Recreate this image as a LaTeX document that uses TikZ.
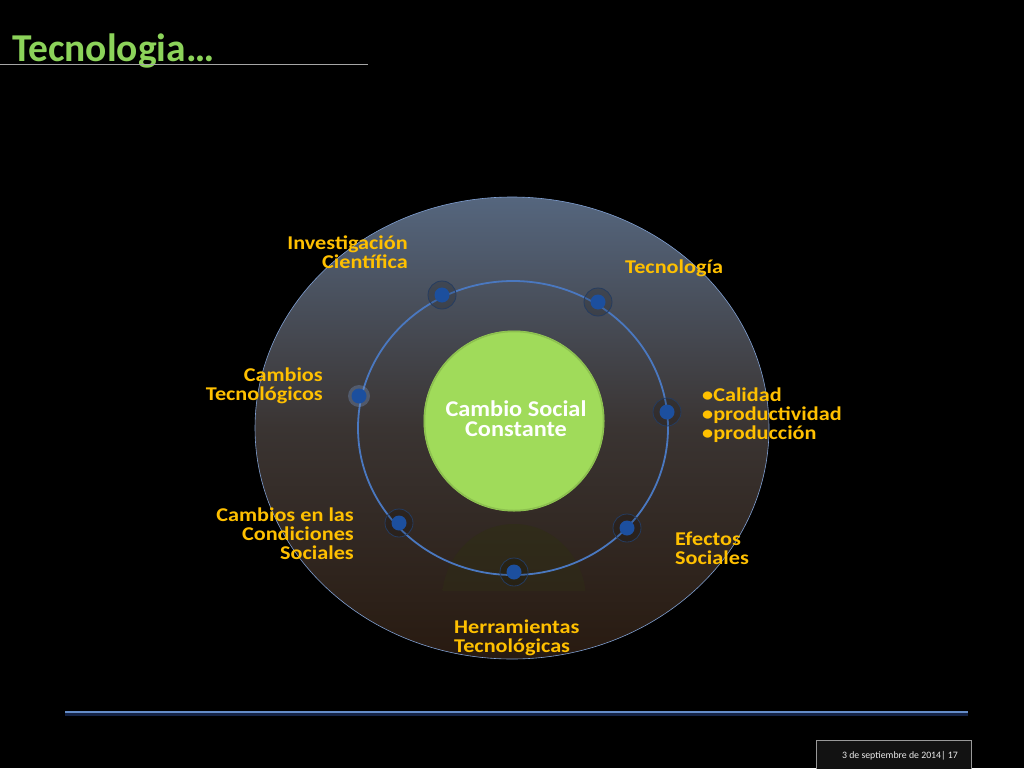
\documentclass[tikz,border=0pt]{standalone}
\usepackage{graphicx}
\usepackage{fontspec}
\setmainfont{Carlito}
\newcommand\hs[1]{\scalebox{1.14}[1]{#1}}
\newcommand\hc[1]{\scalebox{1.08}[1]{#1}}
\definecolor{gold}{HTML}{FFC000}
\definecolor{ringblue}{HTML}{4A78C0}
\definecolor{dotblue}{HTML}{1C4F9E}
\definecolor{titlegreen}{HTML}{8CD35A}
\definecolor{ballgreen}{HTML}{A0DB5A}
\definecolor{topgray}{HTML}{55667E}
\definecolor{midgray}{HTML}{3A3432}
\definecolor{botbrown}{HTML}{281A10}
\definecolor{linedark}{HTML}{142346}
\definecolor{linelight}{HTML}{648CC8}
\definecolor{footfill}{HTML}{121212}
\definecolor{refltop}{HTML}{302C1A}
\definecolor{reflbot}{HTML}{2B2016}
\tikzset{
  lbl/.style={text=gold, font=\fontsize{19.5}{19}\selectfont\bfseries, inner sep=0pt},
  ring/.style={draw=black!50!ringblue, line width=0.8pt, fill=black, fill opacity=0.15},
  dot/.style={circle, fill=dotblue, minimum size=15pt, inner sep=0pt},
}
\begin{document}
\begin{tikzpicture}[x=1pt,y=-1pt]
\useasboundingbox (0,0) rectangle (1024,768);
\fill[black] (0,0) rectangle (1024,768);
% title
\node[anchor=base west, inner sep=0pt, text=titlegreen, font=\fontsize{39.5}{42}\selectfont\bfseries] (title) at (12,61) {Tecnologia…};
\draw[gray!70, line width=0.8pt] (0,64.5) -- (368,64.5);
% outer ellipse
\shade[top color=topgray, bottom color=botbrown, middle color=midgray]
  (512,428) ellipse [x radius=257, y radius=231];
\draw[ringblue!70, line width=0.6pt] (512,428) ellipse [x radius=257, y radius=231];
% reflection under ball
\begin{scope}
\clip (440,524) rectangle (590,590);
\shade[top color=refltop, bottom color=reflbot] (514,600) ellipse [x radius=72, y radius=76];
\end{scope}
% inner ring
\draw[ringblue, line width=1.8pt] (513,428) ellipse [x radius=155, y radius=147];
% central ball
\fill[ballgreen] (514,421) circle (90.5);
\draw[ballgreen!80!black, line width=1.5pt, opacity=0.6] (514,421) circle (89.5);
\node[align=center, text=white, font=\fontsize{22.5}{19.5}\selectfont\bfseries, inner sep=0pt, anchor=base] (center) at (516,436) {\hc{Cambio Social}\\\hc{Constante}};
% dots
\foreach \n/\x/\y in {d1/442/295, d2/598/302, d4/667/412, d5/399/523, d6/627/528, d7/514/572}{
  \draw[ring] (\x,\y) circle (14);
  \node[dot] (\n) at (\x,\y) {};
}
\fill[dotblue!60, opacity=0.35] (359,396) circle (11);
\node[dot] (d3) at (359,396) {};
% labels (base anchor = baseline of the last line)
\node[lbl, align=right, anchor=base east] (l1) at (408,268.5) {\hs{Investigación}\\\hs{Científica}};
\node[lbl, anchor=base west] (l2) at (625,273.5) {\hs{Tecnología}};
\node[lbl, align=right, anchor=base east] (l3) at (323,400.5) {\hs{Cambios}\\\hs{Tecnológicos}};
\node[lbl, align=left, anchor=base west] (l4) at (702,439.5) {\hs{•Calidad}\\\hs{•productividad}\\\hs{•producción}};
\node[lbl, align=right, anchor=base east] (l5) at (354,559.5) {\hs{Cambios en las}\\\hs{Condiciones}\\\hs{Sociales}};
\node[lbl, align=left, anchor=base west] (l6) at (675,564.5) {\hs{Efectos}\\\hs{Sociales}};
\node[lbl, align=left, anchor=base west] (l7) at (454,652.5) {\hs{Herramientas}\\\hs{Tecnológicas}};
% bottom line
\fill[linedark] (65,713) rectangle (968,716);
\draw[linelight, line width=1.6pt] (65,712) -- (968,712);
% footer
\draw[gray!80, line width=0.8pt, fill=footfill] (816,769) -- (816,740) -- (971,740) -- (971,769);
\node[anchor=base east, text=white!85!gray, font=\fontsize{9.8}{10}\selectfont, inner sep=0pt] (footer) at (958,758) {3 de septiembre de 2014| 17};
\end{tikzpicture}
\end{document}
